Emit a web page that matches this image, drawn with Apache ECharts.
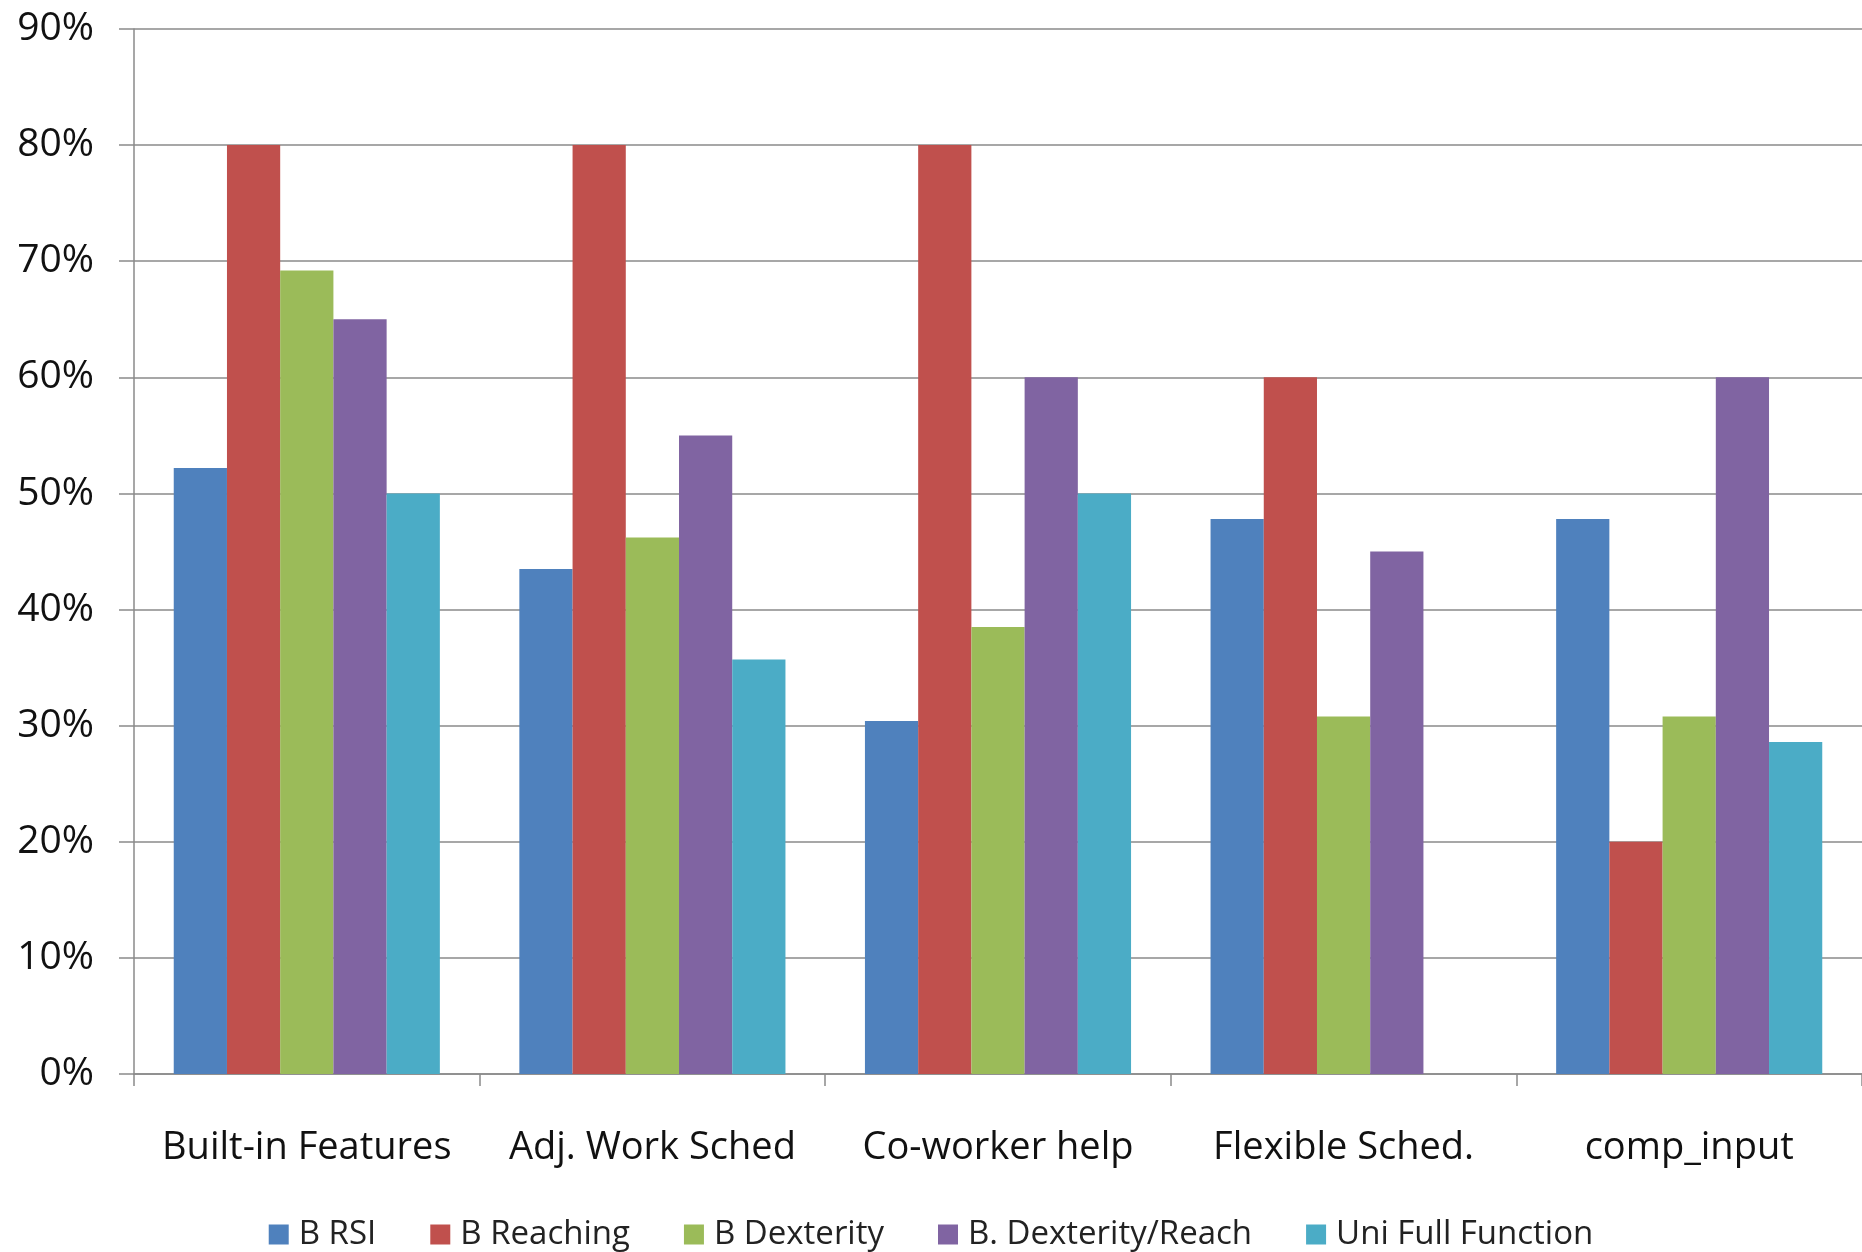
<!DOCTYPE html>
<html><head><meta charset="utf-8">
<script src="https://cdn.jsdelivr.net/npm/echarts@6/dist/echarts.min.js"></script>
<style>html,body{margin:0;padding:0;background:#fff}#c{width:1862px;height:1252px}</style>
</head><body><div id="c"></div>
<script>
const categories = ['Built-in Features', 'Adj. Work Sched', 'Co-worker help', 'Flexible Sched.', 'comp_input'];
const seriesNames = ['B RSI', 'B Reaching', 'B Dexterity', 'B. Dexterity/Reach', 'Uni Full Function'];
const bRSI = [52.2, 43.5, 30.4, 47.8, 47.8];
const bReaching = [80, 80, 80, 60, 20];
const bDexterity = [69.2, 46.2, 38.5, 30.8, 30.8];
const bDexReach = [65, 55, 60, 45, 60];
const uniFull = [50, 35.7, 50, null, 28.6];
const colors = ['#4F81BD', '#C0504D', '#9BBB59', '#8064A2', '#4BACC6'];
const allData = [bRSI, bReaching, bDexterity, bDexReach, uniFull];

const font = '"Open Sans", sans-serif';
const chart = echarts.init(document.getElementById('c'), null, {renderer: 'canvas'});
chart.setOption({
  animation: false,
  color: colors,
  textStyle: {fontFamily: font},
  grid: {left: 134, right: 0, top: 29, bottom: 178, containLabel: false},
  legend: {
    bottom: -4, left: 'center', itemWidth: 20, itemHeight: 20, itemGap: 54,
    icon: 'rect',
    textStyle: {fontSize: 33, color: '#222', fontFamily: font, padding: [0, 0, 0, 5]},
    data: seriesNames
  },
  xAxis: {
    type: 'category', data: categories,
    axisLine: {lineStyle: {color: '#8a8a8a', width: 1.5}},
    axisTick: {show: true, interval: 0, length: 12, lineStyle: {color: '#8a8a8a', width: 1.5}},
    axisLabel: {interval: 0, fontSize: 38, color: '#111', margin: 55, fontFamily: font}
  },
  yAxis: {
    type: 'value', min: 0, max: 90, interval: 10,
    axisLine: {show: true, lineStyle: {color: '#8a8a8a', width: 1.5}},
    axisTick: {show: true, length: 15, lineStyle: {color: '#8a8a8a', width: 1.5}},
    splitLine: {lineStyle: {color: '#8a8a8a', width: 1.5}},
    axisLabel: {fontSize: 39, color: '#111', margin: 40, formatter: '{value}%', fontFamily: font}
  },
  series: seriesNames.map((n, i) => ({
    name: n, type: 'bar', data: allData[i],
    barGap: '0%', barCategoryGap: '23%'
  }))
});
</script></body></html>
